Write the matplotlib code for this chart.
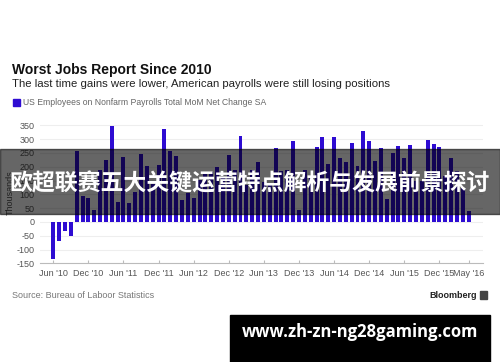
import numpy as np
import matplotlib
matplotlib.use("Agg")
import matplotlib.pyplot as plt
from matplotlib.patches import Rectangle

# monthly net change, Jun 2010 .. May 2016 (thousands)
v2010 = [-133, -68, -34, -52, 257, 95, 88]
v2011 = [42, 190, 226, 346, 74, 236, 70, 110, 246, 202, 138, 208]
v2012 = [338, 257, 240, 78, 105, 87, 153, 172, 181, 200, 160, 244]
v2013 = [190, 311, 135, 190, 216, 146, 140, 268, 184, 189, 292, 45]
v2014 = [187, 168, 272, 309, 211, 307, 232, 218, 286, 202, 331, 292]
v2015 = [220, 268, 84, 250, 274, 230, 278, 150, 149, 296, 284, 272]
v2016 = [168, 232, 185, 123, 38]
valori = v2010 + v2011 + v2012 + v2013 + v2014 + v2015 + v2016

tick_pos = [0, 6, 12, 18, 24, 30, 36, 42, 48, 54, 60, 66, 71]
tick_lab = ["Jun '10", "Dec '10", "Jun '11", "Dec '11", "Jun '12", "Dec '12", "Jun '13",
            "Dec '13", "Jun '14", "Dec '14", "Jun '15", "Dec '15", "May '16"]
y_ticks = [-150, -100, -50, 0, 50, 100, 150, 200, 250, 300, 350]

plt.rcParams["font.family"] = ["Liberation Sans", "DejaVu Sans"]
W, H = 500, 362
fig = plt.figure(figsize=(W / 100, H / 100), dpi=100)
fig.patch.set_facecolor("white")

def fx(px): return px / W
def fy(py): return 1 - py / H

ax = fig.add_axes([fx(40), fy(263.3), fx(483) - fx(40), fy(122.6) - fy(263.3)])
x = np.arange(len(valori))
ax.bar(x, valori, width=0.68, color="#2e0cd2", zorder=3)
ax.set_xlim(-2.27, 73.45)
ax.set_ylim(-150, 360)
ax.set_yticks(y_ticks)
ax.set_yticklabels([str(t) for t in y_ticks], fontsize=6.5, color="#555555")
ax.set_xticks(tick_pos)
ax.set_xticklabels(tick_lab, fontsize=6.5, color="#555555")
ax.grid(axis="y", color="#eeeeee", lw=0.8, zorder=0)
for s in ["top", "right", "left"]:
    ax.spines[s].set_visible(False)
ax.spines["bottom"].set_color("#bbbbbb")
ax.tick_params(axis="y", length=0, pad=4)
ax.tick_params(axis="x", length=2, direction="in", color="#bbbbbb", pad=4)
ax.set_ylabel("Thousands", fontsize=6.5, color="#555555", labelpad=1)

fig.text(fx(12), fy(70), "Worst Jobs Report Since 2010", fontsize=10, fontweight="bold",
         color="#111111", va="center", ha="left")
fig.text(fx(12), fy(84), "The last time gains were lower, American payrolls were still losing positions",
         fontsize=8.2, color="#222222", va="center", ha="left")
fig.patches.append(Rectangle((fx(13), fy(106)), fx(7), fy(99) - fy(106), transform=fig.transFigure,
                             color="#2e0cd2"))
fig.text(fx(23), fy(102.5), "US Employees on Nonfarm Payrolls Total MoM Net Change SA",
         fontsize=6.2, color="#666666", va="center", ha="left")
fig.text(fx(12), fy(295), "Source: Bureau of Laboor Statistics", fontsize=6.5, color="#777777",
         va="center", ha="left")
fig.text(fx(477), fy(295), "Bloomberg", fontsize=6.5, fontweight="bold", color="#222222",
         va="center", ha="right")
fig.patches.append(Rectangle((fx(480), fy(299)), fx(7), fy(291) - fy(299), transform=fig.transFigure,
                             color="#444444"))

# overlay band with headline
fig.patches.append(Rectangle((0, fy(214)), 1, fy(149) - fy(214), transform=fig.transFigure,
                             color="black", alpha=0.6, zorder=10))
fig.text(0.5, fy(184), "欧超联赛五大关键运营特点解析与发展前景探讨", fontsize=16.5, fontweight="bold",
         color="white", ha="center", va="center", zorder=11,
         family=["Noto Sans CJK SC", "DejaVu Sans"])

# url box
fig.patches.append(Rectangle((fx(230), 0), fx(490) - fx(230), fy(315), transform=fig.transFigure,
                             color="black", zorder=10))
fig.text(fx(360), fy(332), "www.zh-zn-ng28gaming.com", fontsize=12, fontweight="bold",
         color="white", ha="center", va="center", zorder=11, family=["Open Sans", "DejaVu Sans"])

fig.savefig("out.png", dpi=100)
